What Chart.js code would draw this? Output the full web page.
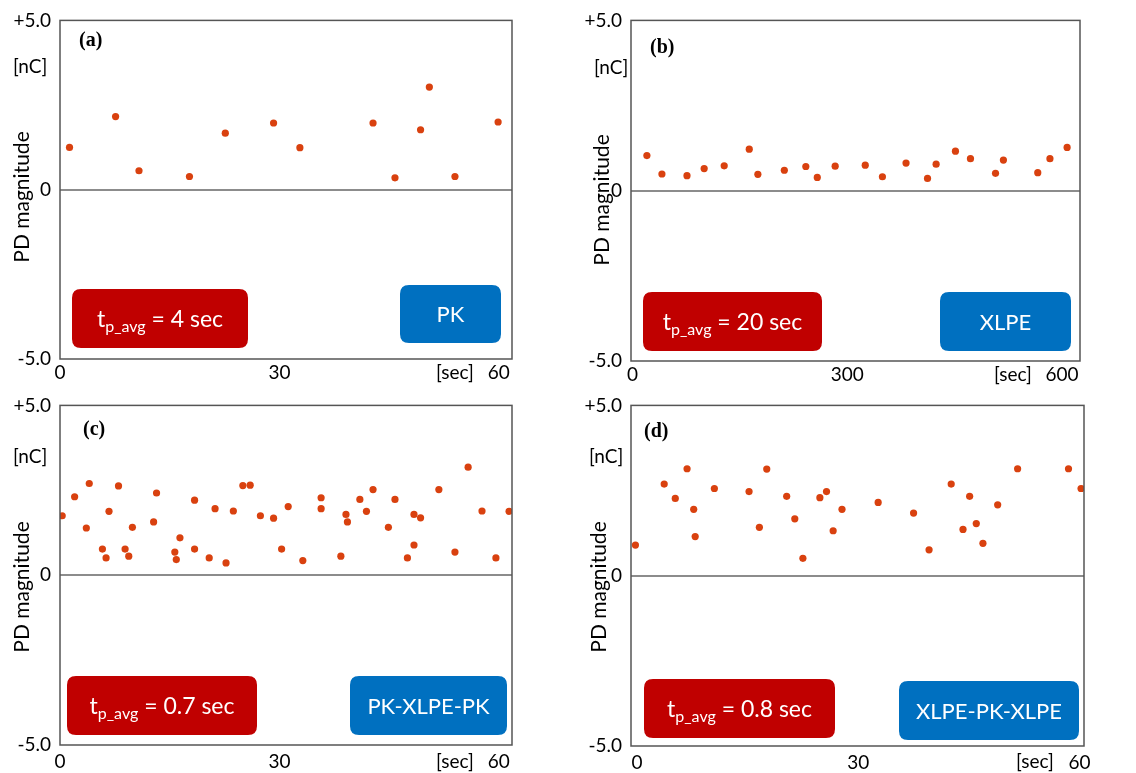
<!DOCTYPE html>
<html>
<head>
<meta charset="utf-8">
<script src="https://cdn.jsdelivr.net/npm/chart.js@4.4.0/dist/chart.umd.min.js"></script>
<style>
  body { margin: 0; background: #fff; }
  canvas { position: absolute; }
</style>
</head>
<body>
<canvas id="chartA" width="570" height="385" style="left:0;top:0"></canvas>
<canvas id="chartB" width="566" height="390" style="left:570px;top:0"></canvas>
<canvas id="chartC" width="570" height="388" style="left:0;top:385px"></canvas>
<canvas id="chartD" width="566" height="388" style="left:570px;top:385px"></canvas>
<script>
// (a) PK
const timeA = [1.3, 7.6, 10.8, 17.7, 22.6, 29.2, 32.8, 42.8, 45.8, 49.3, 50.5, 54.0, 59.9];
const chargeA = [1.25, 2.16, 0.56, 0.39, 1.67, 1.97, 1.24, 1.97, 0.35, 1.77, 3.03, 0.39, 2.0];

// (b) XLPE
const timeB = [20, 41, 76, 100, 128, 163, 175, 212, 242, 258, 283, 325, 349, 382, 412, 424, 451, 472, 507, 518, 566, 583, 607];
const chargeB = [1.03, 0.49, 0.44, 0.65, 0.73, 1.22, 0.48, 0.60, 0.71, 0.39, 0.72, 0.75, 0.41, 0.81, 0.36, 0.78, 1.16, 0.94, 0.51, 0.90, 0.53, 0.94, 1.27];

// (c) PK-XLPE-PK
const timeC = [0.3, 2.0, 3.6, 4.0, 5.8, 6.3, 6.7, 8.0, 8.9, 9.4, 9.9, 12.8, 13.2, 15.7, 15.9, 16.4, 18.4, 18.4, 20.4, 21.2,
  22.7, 23.7, 25.0, 26.0, 27.4, 29.2, 30.3, 31.2, 33.2, 35.7, 35.7, 38.4, 39.1, 39.3, 41.0, 41.9, 42.8, 44.9, 45.8, 47.5,
  48.4, 48.4, 49.3, 51.8, 54.0, 55.8, 57.7, 59.6, 61.4];
const chargeC = [1.75, 2.31, 1.39, 2.70, 0.77, 0.51, 1.88, 2.63, 0.77, 0.56, 1.41, 1.57, 2.42, 0.68, 0.46, 1.10, 2.21, 0.77, 0.51, 1.96,
  0.36, 1.89, 2.64, 2.65, 1.75, 1.68, 0.77, 2.02, 0.43, 2.28, 1.96, 0.56, 1.79, 1.57, 2.23, 1.88, 2.52, 1.41, 2.23, 0.51,
  1.79, 0.89, 1.69, 2.52, 0.68, 3.18, 1.89, 0.51, 1.88];

// (d) XLPE-PK-XLPE
const timeD = [-0.2, 3.7, 5.2, 6.8, 7.7, 7.9, 10.5, 15.2, 16.6, 17.6, 20.3, 21.4, 22.5, 24.8, 25.7, 26.6, 27.8, 32.7, 37.5, 39.6,
  42.6, 44.2, 45.1, 46.0, 46.9, 48.9, 51.6, 58.5, 60.2];
const chargeD = [0.90, 2.69, 2.27, 3.14, 1.95, 1.15, 2.56, 2.47, 1.42, 3.13, 2.33, 1.67, 0.51, 2.29, 2.47, 1.32, 1.95, 2.15, 1.84, 0.76,
  2.69, 1.36, 2.33, 1.53, 0.95, 2.08, 3.14, 3.14, 2.56];

const yTickValues = [-5, 0, 5];
const yTickLabels = ['-5.0', '0', '+5.0'];
const xTicksMinute = [0, 30, 60];
const xTicksTen = [0, 300, 600];

const panelNames = ['(a)', '(b)', '(c)', '(d)'];
const materials = ['PK', 'XLPE', 'PK-XLPE-PK', 'XLPE-PK-XLPE'];
const avgIntervals = ['4', '20', '0.7', '0.8'];

const SANS = 'Lato, "Noto Sans", sans-serif';
const DOT = '#d9410f';

function roundBox(ctx, x, y, w, h, r) {
  ctx.beginPath();
  ctx.moveTo(x + r, y);
  ctx.lineTo(x + w - r, y);
  ctx.quadraticCurveTo(x + w, y, x + w, y + r);
  ctx.lineTo(x + w, y + h - r);
  ctx.quadraticCurveTo(x + w, y + h, x + w - r, y + h);
  ctx.lineTo(x + r, y + h);
  ctx.quadraticCurveTo(x, y + h, x, y + h - r);
  ctx.lineTo(x, y + r);
  ctx.quadraticCurveTo(x, y, x + r, y);
  ctx.closePath();
}

function drawTpBox(ctx, b, value) {
  roundBox(ctx, b[0], b[1], b[2] - b[0], b[3] - b[1], 9);
  ctx.fillStyle = '#c00000';
  ctx.fill();
  const main = '23px ' + SANS, sub = '16px ' + SANS;
  const rest = ' = ' + value + ' sec';
  ctx.font = main; const wt = ctx.measureText('t').width; const wr = ctx.measureText(rest).width;
  ctx.font = sub; const ws = ctx.measureText('p_avg').width;
  let x = (b[0] + b[2]) / 2 - (wt + ws + wr) / 2;
  const base = (b[1] + b[3]) / 2 + 8;
  ctx.fillStyle = '#fff';
  ctx.textAlign = 'left';
  ctx.textBaseline = 'alphabetic';
  ctx.font = main; ctx.fillText('t', x, base); x += wt;
  ctx.font = sub; ctx.fillText('p_avg', x, base + 5); x += ws;
  ctx.font = main; ctx.fillText(rest, x, base);
}

function drawMaterialBox(ctx, b, text) {
  roundBox(ctx, b[0], b[1], b[2] - b[0], b[3] - b[1], 9);
  ctx.fillStyle = '#0070c0';
  ctx.fill();
  ctx.fillStyle = '#fff';
  ctx.font = '22px ' + SANS;
  ctx.textAlign = 'center';
  ctx.textBaseline = 'middle';
  ctx.fillText(text, (b[0] + b[2]) / 2, (b[1] + b[3]) / 2 + 1);
}

function makePanel(id, idx, times, charges, xMin, xMax, xTicks, lay) {
  const decor = {
    id: 'decor' + idx,
    afterDraw(chart) {
      const ctx = chart.ctx, a = chart.chartArea;
      ctx.save();
      ctx.strokeStyle = '#555';
      ctx.lineWidth = 1.5;
      ctx.strokeRect(a.left, a.top, a.right - a.left, a.bottom - a.top);

      ctx.fillStyle = '#000';
      ctx.font = 'bold 20px "Liberation Serif", serif';
      ctx.textAlign = 'left';
      ctx.textBaseline = 'middle';
      ctx.fillText(panelNames[idx], lay.tag[0], lay.tag[1]);

      ctx.font = '19px ' + SANS;
      ctx.fillText('[nC]', lay.unitY[0], lay.unitY[1]);
      ctx.textAlign = 'center';
      ctx.fillText('[sec]', lay.unitX[0], lay.unitX[1]);

      ctx.save();
      ctx.translate(lay.title[0], lay.title[1]);
      ctx.rotate(-Math.PI / 2);
      ctx.font = '21px ' + SANS;
      ctx.fillText('PD magnitude', 0, 0);
      ctx.restore();

      drawTpBox(ctx, lay.red, avgIntervals[idx]);
      drawMaterialBox(ctx, lay.blue, materials[idx]);
      ctx.restore();
    }
  };

  new Chart(document.getElementById(id), {
    type: 'scatter',
    data: {
      datasets: [{
        data: times.map((t, i) => ({ x: t, y: charges[i] })),
        backgroundColor: DOT,
        borderWidth: 0,
        pointRadius: 3.6
      }]
    },
    options: {
      responsive: false,
      animation: false,
      layout: { padding: { left: 0, top: lay.top, right: lay.right, bottom: 0 } },
      plugins: { legend: { display: false }, tooltip: { enabled: false } },
      scales: {
        x: {
          type: 'linear',
          min: xMin,
          max: xMax,
          afterBuildTicks: s => { s.ticks = xTicks.map(v => ({ value: v })); },
          afterFit: s => { s.height = lay.xh; },
          grid: { display: false },
          border: { display: false },
          ticks: { color: '#000', padding: lay.xpad, maxRotation: 0, font: { family: SANS, size: 19 } }
        },
        y: {
          min: -5,
          max: 5,
          afterBuildTicks: s => { s.ticks = yTickValues.map(v => ({ value: v })); },
          afterFit: s => { s.width = lay.yw; },
          grid: {
            drawTicks: false,
            lineWidth: 2,
            color: c => (c.tick && c.tick.value === 0 ? '#8c8c8c' : 'rgba(0,0,0,0)')
          },
          border: { display: false },
          ticks: {
            color: '#000',
            padding: 9,
            font: { family: SANS, size: 19 },
            callback: v => yTickLabels[yTickValues.indexOf(v)]
          }
        }
      }
    },
    plugins: [decor]
  });
}

makePanel('chartA', 0, timeA, chargeA, 0, 61.8, xTicksMinute, {
  top: 14, right: 58, yw: 60, xh: 26, xpad: -6,
  tag: [79, 41], unitY: [13, 67], unitX: [455, 373], title: [22, 197],
  red: [72, 289, 248, 348], blue: [400, 285, 501, 343]
});
makePanel('chartB', 1, timeB, chargeB, -2.2, 625, xTicksTen, {
  top: 20, right: 56, yw: 61, xh: 29, xpad: -6,
  tag: [80, 48], unitY: [24, 68], unitX: [443, 375], title: [32, 200],
  red: [73, 292, 252, 351], blue: [370, 292, 501, 351]
});
makePanel('chartC', 2, timeC, chargeC, 0, 61.8, xTicksMinute, {
  top: 15, right: 58, yw: 60, xh: 28, xpad: -3,
  tag: [83, 45], unitY: [13, 72], unitX: [455, 377], title: [22, 202],
  red: [67, 291, 257, 350], blue: [350, 291, 507, 350]
});
makePanel('chartD', 3, timeD, chargeD, -0.8, 60.6, xTicksMinute, {
  top: 17, right: 52, yw: 61, xh: 27, xpad: -3,
  tag: [74, 47], unitY: [19, 72], unitX: [465, 377], title: [29, 202],
  red: [74, 294, 265, 353], blue: [329, 296, 509, 355]
});
</script>
</body>
</html>
